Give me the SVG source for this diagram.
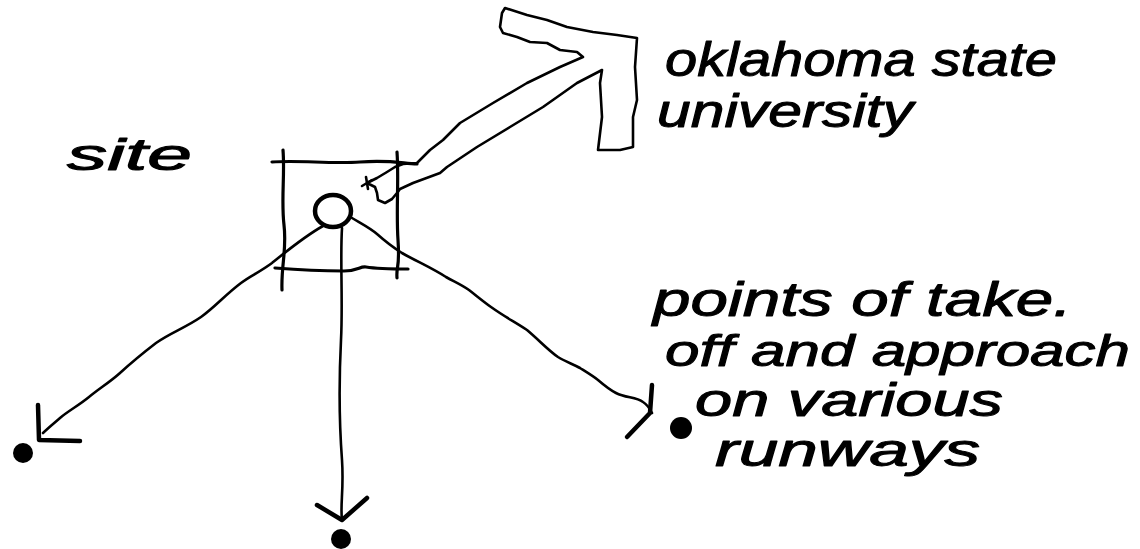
<svg xmlns="http://www.w3.org/2000/svg" width="1140" height="549" viewBox="0 0 1140 549">
  <style>
    .ink { fill: none; stroke: #000; stroke-linecap: round; stroke-linejoin: round; }
    .thin { stroke-width: 2.6; }
    .mid { stroke-width: 3.2; }
    .bold { stroke-width: 4.5; }
    .dot { fill: #000; }
    .hand { font-family: "Liberation Sans", Arial, sans-serif; font-style: italic; fill: #000; stroke: #000; stroke-width: 1; stroke-linejoin: round; }
  </style>
  <rect width="1140" height="549" fill="#fff"/>

  <g id="site">
    <path class="ink mid" d="M272,162 C300,160 330,164 360,162 S400,163 417,164"/>
    <path class="ink mid" d="M283,150 C285,175 281,200 284,225 S281,265 282,290"/>
    <path class="ink mid" d="M397,152 C399,180 396,210 398,240 S396,265 397,278"/>
    <path class="ink mid" d="M275,268 C300,270 330,271 344,271 S360,266 366,267 S395,269 408,269"/>
    <ellipse class="ink bold" cx="333" cy="211" rx="18" ry="16"/>
    <text class="hand" x="67" y="170" font-size="44" textLength="125" lengthAdjust="spacingAndGlyphs">site</text>
  </g>

  <g id="osu">
    <path class="ink thin" d="M367,183 L377,178 L387,172 L395,167 L403,164 L417,163 L430,150 L443,140 L460,123 L493,103 L527,83 L560,67 L583,57 L577,52 L560,50 L547,43 L530,42 L517,37 L503,33 L500,27 L502,13 L505,8 L527,15 L547,20 L567,27 L593,32 L617,35 L637,38 L635,67 L637,100 L633,117 L633,147 L620,150 L598,150 L602,117 L600,83 L602,70 L577,83 L543,107 L510,127 L477,147 L447,167 L440,173 L413,183 L400,189 L397,193 L392,199 L385,203 L378,200 L377,193 L375,187 Z"/>
    <path class="ink thin" d="M362,186 L372,180 M366,177 L368,189"/>
    <text class="hand" x="665" y="76" font-size="48" textLength="392" lengthAdjust="spacingAndGlyphs">oklahoma state</text>
    <text class="hand" x="657" y="127" font-size="46" textLength="256" lengthAdjust="spacingAndGlyphs">university</text>
  </g>

  <g id="points">
    <circle class="dot" cx="23" cy="453" r="10"/>
    <circle class="dot" cx="341" cy="539" r="10"/>
    <circle class="dot" cx="681" cy="428" r="11"/>
    <text class="hand" x="653" y="316" font-size="48" textLength="419" lengthAdjust="spacingAndGlyphs">points of take.</text>
    <text class="hand" x="665" y="366" font-size="45" textLength="465" lengthAdjust="spacingAndGlyphs">off and approach</text>
    <text class="hand" x="695" y="416" font-size="46" textLength="308" lengthAdjust="spacingAndGlyphs">on various</text>
    <text class="hand" x="715" y="466" font-size="46" textLength="265" lengthAdjust="spacingAndGlyphs">runways</text>
  </g>

  <g id="connectors">
    <path class="ink thin" d="M323,226 C305,236 288,250 272,263 C260,272 250,276 241,283 C225,295 215,307 201,317 C185,328 170,333 156,343 C143,353 132,362 120,373 C110,382 100,388 89,397 C78,406 68,411 60,418 C53,424 48,428 43,433"/>
    <path class="ink bold" d="M38,405 L39,440 L80,441"/>
    <path class="ink thin" d="M342,228 C340,260 343,300 341,340 C339,380 339,420 342,460 C344,490 340,505 342,520"/>
    <path class="ink bold" d="M317,505 L342,520 L367,498"/>
    <path class="ink thin" d="M352,218 C362,224 370,228 377,234 C386,242 394,248 402,253 C418,262 432,268 446,277 C455,282 462,285 469,290 C478,297 484,302 491,307 C505,317 515,322 527,330 C540,341 548,350 558,357 C566,362 573,364 580,368 C588,373 593,376 598,380 C605,386 610,390 616,393 C626,398 636,397 643,402 C648,405 650,409 652,413"/>
    <path class="ink bold" d="M652,385 L650,413 L627,437"/>
  </g>
</svg>
